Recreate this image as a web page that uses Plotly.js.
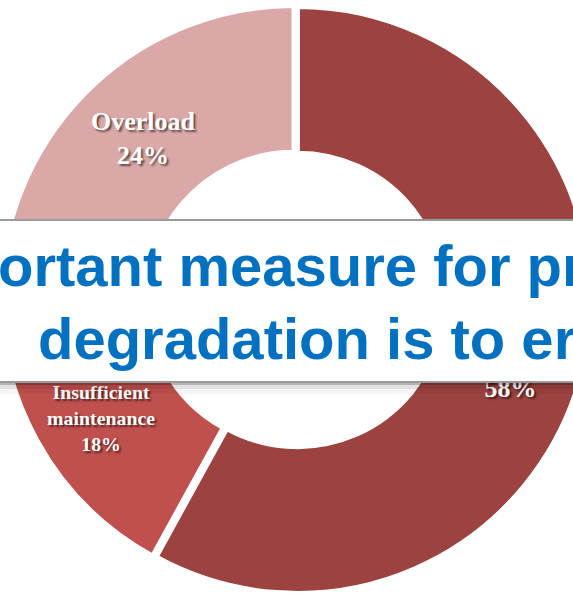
<!DOCTYPE html>
<html>
<head>
<meta charset="utf-8">
<script src="https://cdn.plot.ly/plotly-3.0.1.min.js"></script>
<style>
html,body{margin:0;padding:0;overflow:hidden;background:#fff;}
#chart{width:620px;height:598px;margin-left:-6px;}
</style>
</head>
<body>
<div id="chart"></div>
<script>
// Data
const categories = ["\u00a0<br>\u00a0", "\u00a0<br>Insufficient<br>maintenance", "Overload"];
const shares = [58, 18, 24];
const sliceColors = ["#9C4240", "#C0504D", "#D9A8A7"];
const labelSizes = [26, 20, 26];
const slicePull = [0.012, 0, 0];
const bannerLines = ["ortant measure for pr", "degradation is to er"];

const W = 620, H = 598, SHIFT = 6;
const py = p => 1 - p / H;
const px = p => (p + SHIFT) / W;

const trace = {
  type: "pie",
  labels: categories,
  values: shares,
  sort: false,
  direction: "clockwise",
  rotation: 0,
  hole: 0.5,
  pull: slicePull,
  marker: {colors: sliceColors, line: {color: "#ffffff", width: 5}},
  texttemplate: "%{label}<br>%{percent:.0%}",
  textposition: "inside",
  insidetextorientation: "horizontal",
  textfont: {family: "Liberation Serif, Times New Roman, serif", size: labelSizes, color: "#ffffff", weight: "bold",
             shadow: "2px 2px 2px rgba(0,0,0,0.55)"},
  hoverinfo: "none",
  domain: {x: [0, 600 / W], y: [py(596), py(2)]}
};

const shapes = [
  {type: "rect", xref: "paper", yref: "paper", x0: -0.05, x1: 1.05, y0: py(394), y1: py(382),
   fillcolor: "rgba(0,0,0,0.04)", line: {width: 0}, layer: "above"},
  {type: "rect", xref: "paper", yref: "paper", x0: -0.05, x1: 1.05, y0: py(389), y1: py(382),
   fillcolor: "rgba(0,0,0,0.08)", line: {width: 0}, layer: "above"},
  {type: "rect", xref: "paper", yref: "paper", x0: -0.05, x1: 1.05, y0: py(385), y1: py(382),
   fillcolor: "rgba(0,0,0,0.2)", line: {width: 0}, layer: "above"},
  {type: "rect", xref: "paper", yref: "paper", x0: -0.05, x1: 1.05, y0: py(382), y1: py(220),
   fillcolor: "#ffffff", line: {color: "#9a9a9a", width: 2}, layer: "above"}
];

const annFont = {family: "Liberation Sans, Arial, sans-serif", size: 58, color: "#0070C0", weight: "bold"};
const annotations = [
  {xref: "paper", yref: "paper", x: px(-4), y: py(266), xanchor: "left", yanchor: "middle",
   text: bannerLines[0], showarrow: false, font: annFont},
  {xref: "paper", yref: "paper", x: px(36), y: py(338), xanchor: "left", yanchor: "middle",
   text: bannerLines[1], showarrow: false, font: annFont}
];

const layout = {
  width: W, height: H,
  margin: {l: 0, r: 0, t: 0, b: 0, pad: 0},
  showlegend: false,
  paper_bgcolor: "#ffffff",
  shapes: shapes,
  annotations: annotations
};

Plotly.newPlot("chart", [trace], layout, {displayModeBar: false, staticPlot: true});
</script>
</body>
</html>
